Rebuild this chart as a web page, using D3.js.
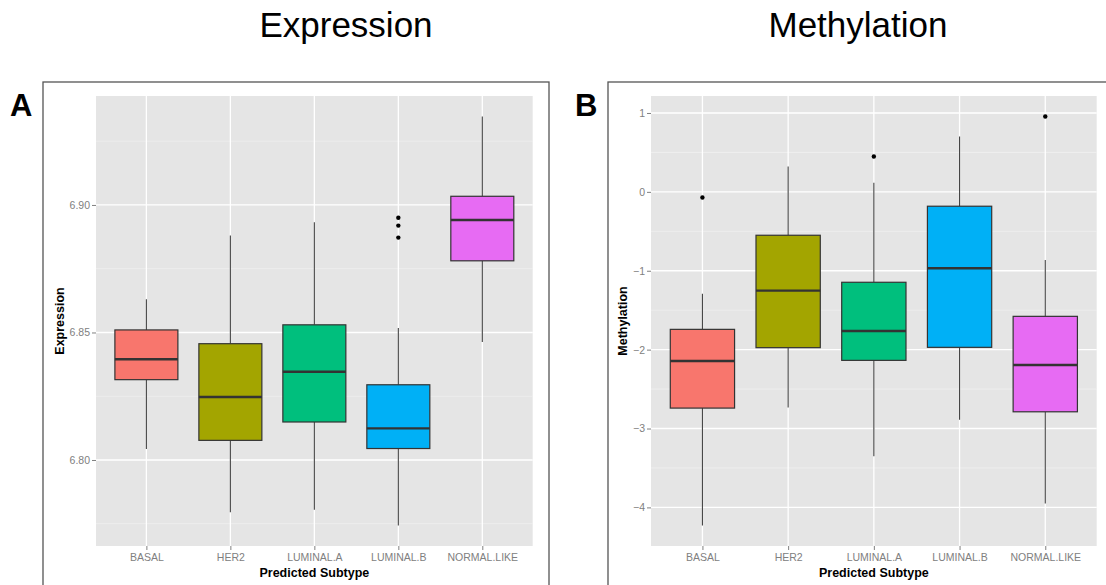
<!DOCTYPE html>
<html>
<head>
<meta charset="utf-8">
<script src="https://cdn.jsdelivr.net/npm/d3@7"></script>
<style>
  html, body { margin: 0; padding: 0; background: #fff; }
  svg { display: block; font-family: "Liberation Sans", Arial, Helvetica, sans-serif; }
</style>
</head>
<body>
<svg id="chart" width="1106" height="585"></svg>
<script>
// Subtypes shared by both panels
const categories = ["BASAL", "HER2", "LUMINAL.A", "LUMINAL.B", "NORMAL.LIKE"];
const fillColors = ["#F8766D", "#A3A500", "#00BF7D", "#00B0F6", "#E76BF3"];

// Expression: whisker ends, quartiles and median per subtype
const exprLower  = [6.8043, 6.7795, 6.7805, 6.7743, 6.8463];
const exprQ1     = [6.8315, 6.8077, 6.8149, 6.8045, 6.8781];
const exprMedian = [6.8395, 6.8247, 6.8346, 6.8124, 6.8941];
const exprQ3     = [6.8510, 6.8456, 6.8530, 6.8295, 6.9034];
const exprUpper  = [6.8630, 6.8880, 6.8932, 6.8518, 6.9347];
const exprOutliers = [["LUMINAL.B", 6.8950], ["LUMINAL.B", 6.8919], ["LUMINAL.B", 6.8872]];
const exprTicks = [6.80, 6.85, 6.90];

// Methylation: whisker ends, quartiles and median per subtype
const methLower  = [-4.230, -2.733, -3.350, -2.889, -3.951];
const methQ1     = [-2.741, -1.975, -2.136, -1.971, -2.788];
const methMedian = [-2.145, -1.252, -1.764, -0.969, -2.195];
const methQ3     = [-1.743, -0.550, -1.146, -0.182, -1.578];
const methUpper  = [-1.290, 0.321, 0.114, 0.702, -0.863];
const methOutliers = [["BASAL", -0.072], ["LUMINAL.A", 0.448], ["NORMAL.LIKE", 0.956]];
const methTicks = [-4, -3, -2, -1, 0, 1];

const svg = d3.select("#chart");

function drawPanel(cfg) {
  const g = svg.append("g");
  const { x0, x1, y0, y1 } = cfg;

  // outer frame around the panel
  g.append("rect")
    .attr("x", cfg.frameX).attr("y", 82)
    .attr("width", cfg.frameW).attr("height", 540)
    .attr("fill", "none").attr("stroke", "#555").attr("stroke-width", 1.3);

  // panel letter and title
  g.append("text").attr("x", cfg.letterX).attr("y", 116)
    .attr("font-size", 31).attr("font-weight", "bold").attr("fill", "#000")
    .text(cfg.letter);
  g.append("text").attr("x", cfg.titleX).attr("y", 37)
    .attr("text-anchor", "middle").attr("font-size", 35).attr("fill", "#000")
    .text(cfg.title);

  // scales
  const all = cfg.lower.concat(cfg.upper, cfg.outliers.map(d => d[1]));
  const [mn, mx] = d3.extent(all);
  const pad = (mx - mn) * 0.05;
  const y = d3.scaleLinear().domain([mn - pad, mx + pad]).range([y1, y0]);
  const x = d3.scalePoint().domain(categories).range([x0, x1]).padding(0.6);

  // panel background
  g.append("rect").attr("x", x0).attr("y", y0)
    .attr("width", x1 - x0).attr("height", y1 - y0).attr("fill", "#E5E5E5");

  // minor gridlines halfway between major ticks
  const step = cfg.ticks[1] - cfg.ticks[0];
  const minor = [cfg.ticks[0] - step / 2].concat(cfg.ticks.map(t => t + step / 2))
    .filter(v => v >= y.domain()[0] && v <= y.domain()[1]);
  g.selectAll(".minor").data(minor).join("line")
    .attr("x1", x0).attr("x2", x1)
    .attr("y1", d => y(d)).attr("y2", d => y(d))
    .attr("stroke", "#F2F2F2").attr("stroke-width", 0.7);

  // major gridlines
  g.selectAll(".hmajor").data(cfg.ticks).join("line")
    .attr("x1", x0).attr("x2", x1)
    .attr("y1", d => y(d)).attr("y2", d => y(d))
    .attr("stroke", "#fff").attr("stroke-width", 1.3);
  g.selectAll(".vmajor").data(categories).join("line")
    .attr("x1", d => x(d)).attr("x2", d => x(d))
    .attr("y1", y0).attr("y2", y1)
    .attr("stroke", "#fff").attr("stroke-width", 1.3);

  // y axis
  const yAxis = g.append("g").attr("transform", `translate(${x0},0)`)
    .call(d3.axisLeft(y).tickValues(cfg.ticks).tickFormat(d3.format(cfg.fmt))
      .tickSize(4).tickPadding(2));
  yAxis.select(".domain").remove();
  yAxis.selectAll(".tick line").attr("stroke", "#808080");
  yAxis.selectAll(".tick text").attr("fill", "#808080").attr("font-size", 10.5)
    .attr("font-family", null);

  // x axis
  const xAxis = g.append("g").attr("transform", `translate(0,${y1})`)
    .call(d3.axisBottom(x).tickSize(4).tickPadding(4));
  xAxis.select(".domain").remove();
  xAxis.selectAll(".tick line").attr("stroke", "#808080");
  xAxis.selectAll(".tick text").attr("fill", "#808080").attr("font-size", 10.5)
    .attr("font-family", null);

  // axis titles
  g.append("text").attr("x", (x0 + x1) / 2).attr("y", 577)
    .attr("text-anchor", "middle").attr("font-size", 12.5).attr("font-weight", "bold")
    .text("Predicted Subtype");
  g.append("text")
    .attr("transform", `translate(${cfg.yTitleX},${(y0 + y1) / 2}) rotate(-90)`)
    .attr("text-anchor", "middle").attr("dominant-baseline", "central")
    .attr("font-size", 12.5).attr("font-weight", "bold")
    .text(cfg.yTitle);

  // boxplots
  const boxW = x.step() * 0.75;
  const stats = categories.map((c, i) => ({
    c, i, lo: cfg.lower[i], q1: cfg.q1[i], med: cfg.median[i], q3: cfg.q3[i], hi: cfg.upper[i]
  }));
  const box = g.selectAll(".box").data(stats).join("g");
  box.append("line")
    .attr("x1", d => x(d.c)).attr("x2", d => x(d.c))
    .attr("y1", d => y(d.hi)).attr("y2", d => y(d.q3))
    .attr("stroke", "#444").attr("stroke-width", 1.1);
  box.append("line")
    .attr("x1", d => x(d.c)).attr("x2", d => x(d.c))
    .attr("y1", d => y(d.q1)).attr("y2", d => y(d.lo))
    .attr("stroke", "#444").attr("stroke-width", 1.1);
  box.append("rect")
    .attr("x", d => x(d.c) - boxW / 2).attr("width", boxW)
    .attr("y", d => y(d.q3)).attr("height", d => y(d.q1) - y(d.q3))
    .attr("fill", d => fillColors[d.i]).attr("stroke", "#333").attr("stroke-width", 1.2);
  box.append("line")
    .attr("x1", d => x(d.c) - boxW / 2).attr("x2", d => x(d.c) + boxW / 2)
    .attr("y1", d => y(d.med)).attr("y2", d => y(d.med))
    .attr("stroke", "#333").attr("stroke-width", 2.4);

  // outliers
  g.selectAll(".out").data(cfg.outliers).join("circle")
    .attr("cx", d => x(d[0])).attr("cy", d => y(d[1]))
    .attr("r", 2.2).attr("fill", "#000");
}

drawPanel({
  x0: 96, x1: 532.7, y0: 96, y1: 546,
  frameX: 43, frameW: 506, letter: "A", letterX: 10,
  title: "Expression", titleX: 346, yTitle: "Expression", yTitleX: 60,
  lower: exprLower, q1: exprQ1, median: exprMedian, q3: exprQ3, upper: exprUpper,
  outliers: exprOutliers, ticks: exprTicks, fmt: ".2f"
});

drawPanel({
  x0: 651, x1: 1096.7, y0: 96, y1: 546,
  frameX: 608, frameW: 520, letter: "B", letterX: 575,
  title: "Methylation", titleX: 858, yTitle: "Methylation", yTitleX: 623,
  lower: methLower, q1: methQ1, median: methMedian, q3: methQ3, upper: methUpper,
  outliers: methOutliers, ticks: methTicks, fmt: "d"
});
</script>
</body>
</html>
